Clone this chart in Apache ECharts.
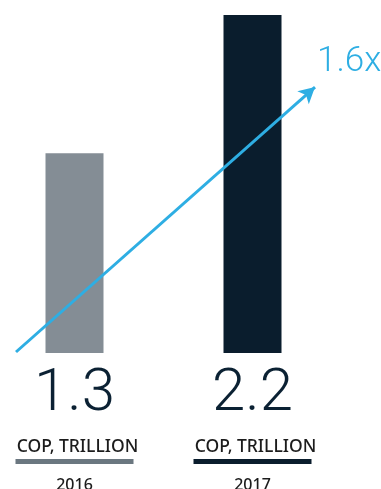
<!DOCTYPE html>
<html>
<head>
<meta charset="utf-8">
<style>html,body{margin:0;padding:0;background:#fff;}#c{width:381px;height:489px;}</style>
<script src="https://cdn.jsdelivr.net/npm/echarts@6/dist/echarts.min.js"></script>
</head>
<body>
<div id="c"></div>
<script>
var years = ['2016', '2017'];
var values = [1.3, 2.2];
var unitLabel = 'COP, TRILLION';
var growthLabel = '1.6x';
var arrowStart = [0.0857, 0.0065];
var arrowEnd = [0.9256, 1.731];

var barColors = ['#848d95', '#0a1d2d'];
var ruleColors = ['#6b7780', '#0a1d2d'];
var textColor = '#0b2133';
var blue = '#2eaee3';
var font = 'Noto Sans';
var lightFont = 'Roboto';

var chart = echarts.init(document.getElementById('c'), null, {renderer: 'canvas'});
chart.setOption({
  animation: false,
  grid: {left: -14.5, width: 356, top: 15, height: 338, containLabel: false, outerBoundsMode: 'none'},
  xAxis: [{
    type: 'category', data: years,
    axisLine: {show: false}, axisTick: {show: false},
    axisLabel: {
      margin: 0, interval: 0,
      formatter: function (v, i) {
        return '{v|' + values[i] + '}\n{u|' + unitLabel + '}\n{b' + i + '| }\n{y|' + v + '}';
      },
      rich: {
        v: {fontFamily: lightFont, fontSize: 60, fontWeight: 300, color: textColor, lineHeight: 83, align: 'center'},
        u: {fontFamily: font, fontSize: 17.5, fontWeight: 500, color: '#1c1c1c', lineHeight: 23, align: 'center', padding: [0, 0, 0, 6]},
        b0: {backgroundColor: ruleColors[0], width: 118, height: 5, lineHeight: 5, fontSize: 1, align: 'center'},
        b1: {backgroundColor: ruleColors[1], width: 118, height: 5, lineHeight: 5, fontSize: 1, align: 'center'},
        y: {fontFamily: font, fontSize: 16, fontWeight: 500, color: '#1c1c1c', lineHeight: 42, align: 'center'}
      }
    }
  }, {
    type: 'value', min: 0, max: 1, show: false
  }],
  yAxis: {type: 'value', min: 0, max: 2.2, show: false},
  series: [{
    type: 'bar', barWidth: 58, xAxisIndex: 0,
    data: values.map(function (v, i) { return {value: v, itemStyle: {color: barColors[i]}}; })
  }, {
    type: 'line', xAxisIndex: 1, data: [], silent: true,
    markLine: {
      silent: true, symbol: ['none', 'arrow'], symbolSize: [13, 16],
      label: {show: false},
      lineStyle: {color: blue, width: 3, type: 'solid'},
      data: [[{coord: arrowStart}, {coord: arrowEnd}]]
    }
  }],
  graphic: [{
    type: 'text', left: 317, top: 45,
    style: {text: growthLabel, fontFamily: lightFont, fontSize: 35, fontWeight: 300, fill: blue}
  }]
});
</script>
</body>
</html>
